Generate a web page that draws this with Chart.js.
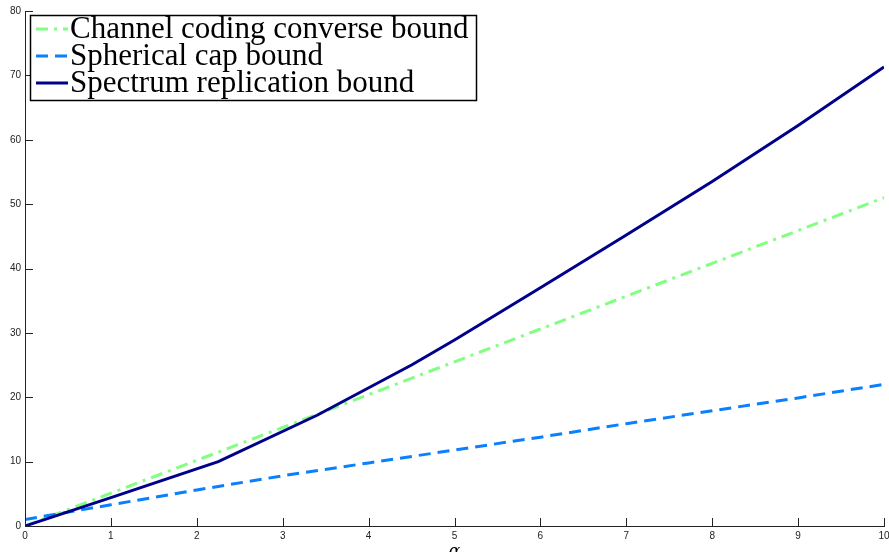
<!DOCTYPE html>
<html>
<head>
<meta charset="utf-8">
<script src="https://cdn.jsdelivr.net/npm/chart.js@4.4.1/dist/chart.umd.min.js"></script>
<style>
  html, body { margin: 0; padding: 0; background: #fff; }
  #wrap { width: 889px; height: 552px; }
</style>
</head>
<body>
<div id="wrap"><canvas id="chart"></canvas></div>
<script>
// values
const alphaSpec = [0, 1, 2.25, 3.4, 4.5, 5, 6, 7, 8, 9, 10];
const spectrumBound = [0, 4.4, 10, 17.2, 25, 28.9, 37, 45.2, 53.5, 62.2, 71.3];

const alphaGrid = [0, 1, 2, 3, 4, 5, 6, 7, 8, 9, 10];
const channelBound = [0, 5.1, 10.2, 15.3, 20.4, 25.5, 30.6, 35.7, 40.8, 45.9, 51];
const capBound = [1, 3.3, 5.6, 7.8, 9.8, 11.8, 13.8, 15.9, 17.9, 19.9, 22];

const seriesNames = ["Channel coding converse bound", "Spherical cap bound", "Spectrum replication bound"];
const xTicks = [0, 1, 2, 3, 4, 5, 6, 7, 8, 9, 10];
const yTicks = [0, 10, 20, 30, 40, 50, 60, 70, 80];

const toPoints = (xs, ys) => xs.map((x, i) => ({ x: x, y: ys[i] }));

// inward tick marks, like the matlab figure
const innerTicks = {
  id: "innerTicks",
  afterDatasetsDraw(chart) {
    const ctx = chart.ctx;
    const xs = chart.scales.x, ys = chart.scales.y;
    const area = chart.chartArea;
    ctx.save();
    ctx.strokeStyle = "#222";
    ctx.lineWidth = 1;
    ctx.beginPath();
    xTicks.forEach((v) => {
      const px = Math.round(xs.getPixelForValue(v)) + 0.5;
      ctx.moveTo(px, area.bottom);
      ctx.lineTo(px, area.bottom - 8);
    });
    yTicks.forEach((v) => {
      const py = Math.round(ys.getPixelForValue(v)) + 0.5;
      ctx.moveTo(area.left, py);
      ctx.lineTo(area.left + 8, py);
    });
    ctx.stroke();
    ctx.restore();
  },
};

// legend box in the upper left corner
const boxLegend = {
  id: "boxLegend",
  afterDraw(chart) {
    const ctx = chart.ctx;
    const left = 30, top = 15, w = 446, h = 85;
    ctx.save();
    ctx.fillStyle = "#fff";
    ctx.fillRect(left, top, w, h);
    ctx.strokeStyle = "#000";
    ctx.lineWidth = 1.5;
    ctx.strokeRect(left + 0.5, top + 0.5, w, h);
    ctx.font = "31px 'Liberation Serif', serif";
    ctx.textBaseline = "middle";
    chart.data.datasets.forEach((ds, i) => {
      const y = top + 14 + i * 27;
      ctx.strokeStyle = ds.borderColor;
      ctx.lineWidth = ds.borderWidth;
      ctx.setLineDash(ds.borderDash || []);
      ctx.beginPath();
      ctx.moveTo(left + 6, y);
      ctx.lineTo(left + 38, y);
      ctx.stroke();
      ctx.setLineDash([]);
      ctx.fillStyle = "#000";
      ctx.fillText(ds.label, left + 40, y + 1);
    });
    ctx.restore();
  },
};

const ctx = document.getElementById("chart").getContext("2d");

new Chart(ctx, {
  type: "line",
  data: {
    datasets: [
      {
        label: seriesNames[0],
        data: toPoints(alphaGrid, channelBound),
        borderColor: "#80ff80",
        borderWidth: 3,
        borderDash: [12, 6, 3, 6],
        pointRadius: 0,
        fill: false,
        order: 2,
      },
      {
        label: seriesNames[1],
        data: toPoints(alphaGrid, capBound),
        borderColor: "#0a80ff",
        borderWidth: 3,
        borderDash: [12, 7],
        pointRadius: 0,
        fill: false,
        order: 1,
      },
      {
        label: seriesNames[2],
        data: toPoints(alphaSpec, spectrumBound),
        borderColor: "#00008b",
        borderWidth: 3,
        pointRadius: 0,
        fill: false,
        order: 0,
      },
    ],
  },
  options: {
    responsive: true,
    maintainAspectRatio: false,
    animation: false,
    layout: { padding: { top: 11, right: 5, left: 0, bottom: 0 } },
    plugins: {
      legend: { display: false },
      tooltip: { enabled: false },
    },
    scales: {
      x: {
        type: "linear",
        min: 0,
        max: 10,
        afterBuildTicks: (s) => { s.ticks = xTicks.map((v) => ({ value: v })); },
        afterFit: (s) => { s.height = 26; s.paddingLeft = 0; s.paddingRight = 0; },
        grid: { display: false, drawTicks: false },
        border: { display: true, color: "#222", width: 1 },
        ticks: {
          padding: 4,
          color: "#222",
          font: { family: "'Liberation Sans', sans-serif", size: 10 },
        },
        title: {
          display: true,
          text: "α",
          color: "#000",
          padding: { top: 0, bottom: -10 },
          font: { family: "'DejaVu Serif', serif", style: "italic", size: 17 },
        },
      },
      y: {
        min: 0,
        max: 80,
        afterBuildTicks: (s) => { s.ticks = yTicks.map((v) => ({ value: v })); },
        afterFit: (s) => { s.width = 25; },
        grid: { display: false, drawTicks: false },
        border: { display: true, color: "#222", width: 1 },
        ticks: {
          padding: 4,
          color: "#222",
          font: { family: "'Liberation Sans', sans-serif", size: 10 },
        },
      },
    },
  },
  plugins: [innerTicks, boxLegend],
});
</script>
</body>
</html>
